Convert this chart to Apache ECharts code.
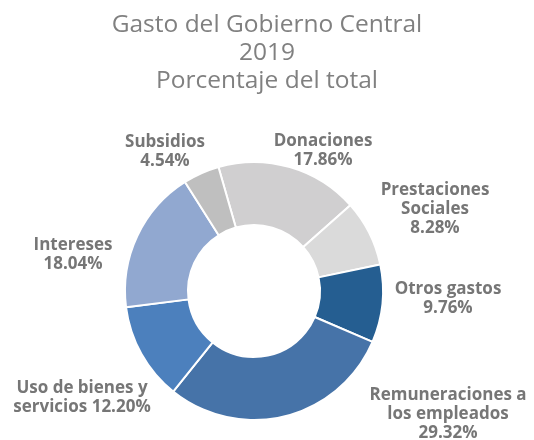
<!DOCTYPE html>
<html>
<head>
<meta charset="utf-8">
<script src="https://cdn.jsdelivr.net/npm/echarts@6/dist/echarts.min.js"></script>
<style>
  html, body { margin: 0; padding: 0; background: #fff; }
  #pie { width: 534px; height: 440px; }
</style>
</head>
<body>
<div id="pie"></div>
<script>
var categories = ['Donaciones', 'Prestaciones Sociales', 'Otros gastos', 'Remuneraciones a los empleados', 'Uso de bienes y servicios', 'Intereses', 'Subsidios'];
var labelTexts = ['Donaciones', 'Prestaciones\nSociales', 'Otros gastos', 'Remuneraciones a\nlos empleados', 'Uso de bienes y\nservicios', 'Intereses', 'Subsidios'];
var values = [17.86, 8.28, 9.76, 29.32, 12.20, 18.04, 4.54];
var colors = ['#d0cfd0', '#dadada', '#255e91', '#4673a8', '#4c80bd', '#91a8d0', '#bfbfbf'];
// where each label block is centred (px)
var labelSpots = [[323, 151], [435, 209], [448, 299], [448, 414], [82, 398], [73, 255], [165, 152]];

var pieChart = echarts.init(document.getElementById('pie'), null, {renderer: 'canvas'});

var data = categories.map(function (c, i) {
    return {name: c, value: values[i], itemStyle: {color: colors[i]}};
});

pieChart.setOption({
    animation: false,
    title: {
        text: 'Gasto del Gobierno Central\n2019\nPorcentaje del total',
        left: 'center',
        top: 6,
        textStyle: {
            fontFamily: 'Open Sans',
            fontSize: 24.5,
            fontWeight: 'normal',
            color: '#808080',
            lineHeight: 28
        }
    },
    series: [{
        type: 'pie',
        center: [254, 291],
        radius: [66, 129],
        startAngle: 106,
        clockwise: true,
        data: data,
        itemStyle: {borderColor: '#fff', borderWidth: 2},
        labelLine: {show: false},
        labelLayout: function (p) {
            var s = labelSpots[p.dataIndex];
            return {x: s[0], y: s[1], align: 'center', verticalAlign: 'middle', hideOverlap: false};
        },
        label: {
            show: true,
            position: 'outside',
            fontFamily: 'Open Sans',
            fontSize: 17,
            fontWeight: 'bold',
            color: '#767676',
            lineHeight: 19,
            align: 'center',
            overflow: 'none',
            formatter: function (p) {
                var t = labelTexts[p.dataIndex];
                var pct = p.value.toFixed(2) + '%';
                if (p.dataIndex === 4) return t + ' ' + pct;
                return t + '\n' + pct;
            }
        }
    }]
});
</script>
</body>
</html>
